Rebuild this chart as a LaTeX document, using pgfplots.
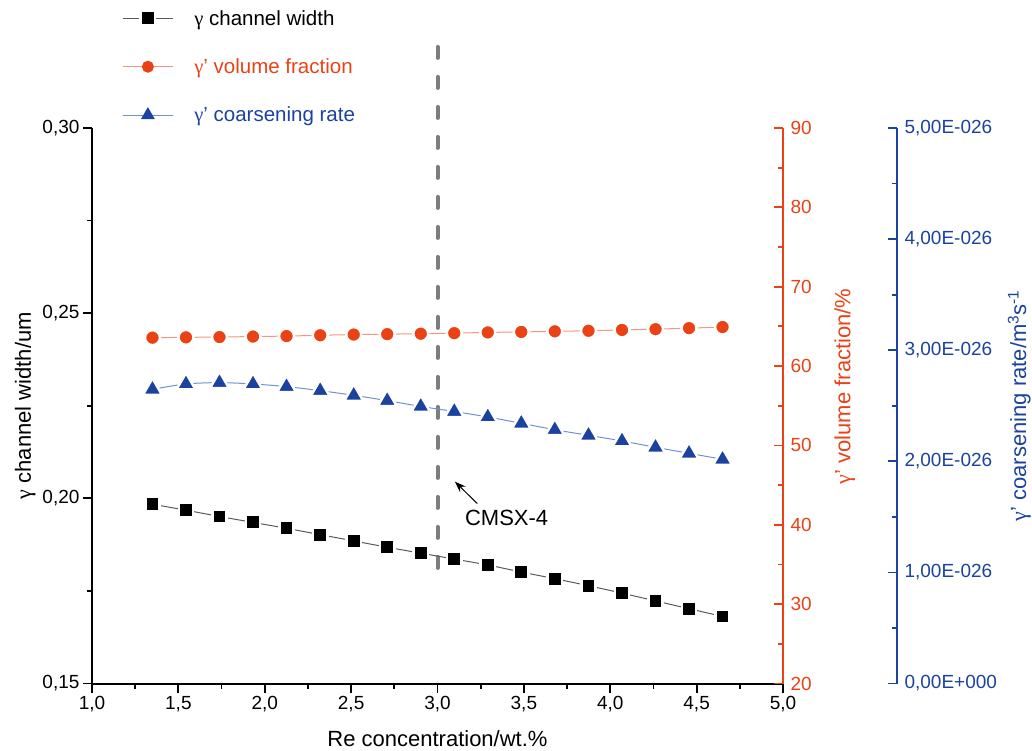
\documentclass[border=0pt]{standalone}
\usepackage{fontspec}
\setmainfont{Liberation Sans}
\newfontfamily\serifg{Liberation Serif}
\usepackage{pgfplots}
\usepackage{pgfplotstable}
\pgfplotsset{compat=1.18}
\usetikzlibrary{arrows.meta}
\definecolor{cred}{RGB}{234,66,20}
\definecolor{cblue}{RGB}{28,66,160}
\definecolor{credl}{RGB}{245,150,125}
\definecolor{cbluel}{RGB}{110,145,215}
\definecolor{cgrayl}{RGB}{90,90,90}
\definecolor{cdash}{RGB}{125,125,125}
\newcommand{\g}{{\serifg γ}}

\pgfplotstableread{
x w f r
1.350 0.1984 63.58 2.648
1.544 0.1968 63.62 2.696
1.738 0.1951 63.66 2.708
1.932 0.1935 63.72 2.696
2.126 0.1919 63.78 2.672
2.321 0.1902 63.88 2.636
2.515 0.1885 63.97 2.594
2.709 0.1868 64.02 2.546
2.903 0.1852 64.08 2.494
3.097 0.1836 64.15 2.448
3.291 0.1820 64.24 2.399
3.485 0.1801 64.30 2.342
3.679 0.1783 64.38 2.284
3.874 0.1764 64.45 2.234
4.068 0.1744 64.55 2.183
4.262 0.1723 64.65 2.126
4.456 0.1702 64.78 2.072
4.650 0.1681 64.92 2.018
}\data

\pgfplotsset{
  base/.style={
    at={(92pt,66.5pt)}, anchor=south west, scale only axis,
    height=555.5pt,
    major tick length=9pt, minor tick length=5pt,
    every tick/.style={line width=1.8pt},
    every minor tick/.style={line width=1.8pt},
    /pgf/number format/assume math mode=true,
    clip=false,
  },
}

\begin{document}
\begin{tikzpicture}[x=1pt,y=1pt]
\useasboundingbox (0,0) rectangle (1032,750);

% left axis
\begin{axis}[base,
  width=691pt,
  xmin=1, xmax=5, ymin=0.15, ymax=0.30,
  axis x line*=bottom, axis y line*=left,
  axis line style={line width=2pt, black},
  tick align=outside,
  xtick={1,1.5,...,5}, minor x tick num=1,
  ytick={0.15,0.2,0.25,0.3}, minor y tick num=1,
  xticklabel style={/pgf/number format/.cd, fixed, fixed zerofill, precision=1, use comma},
  yticklabel style={/pgf/number format/.cd, fixed, fixed zerofill, precision=2, use comma},
  tick label style={font=\fontsize{19}{22}\selectfont},
  xlabel={Re concentration/wt.\%},
  ylabel={\g\ channel width/um},
  label style={font=\fontsize{22}{24}\selectfont},
  xlabel style={yshift=-12pt},
  legend style={draw=none, fill=none, at={(axis description cs:0.0437,1.216)}, anchor=north west,
    row sep=28pt, font=\fontsize{20.5}{22}\selectfont, inner sep=0pt},
  legend cell align=left,
  legend image code/.code={\draw[mark repeat=2,mark phase=2] plot coordinates {(0pt,0pt)(25pt,0pt)(50pt,0pt)};},
]
\addplot[cdash, line width=4pt, line cap=round, dash pattern=on 11pt off 19pt, forget plot] coordinates {(3,0.3219) (3,0.1771)};
\addplot[cgrayl, line width=1pt, smooth, mark=square*, mark size=7.2pt,
  mark options={fill=black, draw=white, line width=2.5pt, solid}] table[x=x,y=w] {\data};
\addlegendentry{\hspace{19pt}\g\ channel width}
\addlegendimage{credl, line width=1pt, mark=*, mark size=5.5pt, mark options={fill=cred, draw=cred, solid}}
\addlegendentry{\hspace{19pt}\textcolor{cred}{\g' volume fraction}}
\addlegendimage{cbluel, line width=1pt, mark=triangle*, mark size=7pt, mark options={fill=cblue, draw=cblue, solid}}
\addlegendentry{\hspace{19pt}\textcolor{cblue}{\g' coarsening rate}}
\draw[-{Stealth[length=11pt,width=8pt]}, line width=1pt] (axis cs:3.23,0.1986) -- (axis cs:3.101,0.2045);
\node[font=\fontsize{22}{24}\selectfont] at (axis cs:3.40,0.1946) {CMSX-4};
\end{axis}

% red axis
\begin{axis}[base,
  width=691pt,
  xmin=1, xmax=5, ymin=20, ymax=90,
  axis x line=none, axis y line*=right,
  axis line style={line width=2pt, cred},
  tick align=inside,
  ytick={20,30,...,90}, minor y tick num=1,
  every tick/.style={line width=1.8pt, cred},
  every minor tick/.style={line width=1.8pt, cred},
  yticklabel style={font=\fontsize{19}{22}\selectfont, text=cred, xshift=4pt},
  ylabel={\g' volume fraction/\%},
  ylabel style={font=\fontsize{22}{24}\selectfont, text=cred, at={(ticklabel cs:0.535,16pt)}},
]
\addplot[credl, line width=1pt, smooth, mark=*, mark size=7.5pt,
  mark options={fill=cred, draw=white, line width=2.5pt, solid}] table[x=x,y=f] {\data};
\end{axis}

% blue axis
\begin{axis}[base,
  width=805pt,
  xmin=1, xmax=5.65991, ymin=0, ymax=5,
  axis x line=none, axis y line*=right,
  axis line style={line width=2pt, cblue},
  tick align=inside,
  ytick={0,1,2,3,4,5}, minor y tick num=1,
  yticklabels={{0,00E+000},{1,00E-026},{2,00E-026},{3,00E-026},{4,00E-026},{5,00E-026}},
  every tick/.style={line width=1.8pt, cblue},
  every minor tick/.style={line width=1.8pt, cblue},
  yticklabel style={font=\fontsize{19}{22}\selectfont, text=cblue, xshift=4pt},
  ylabel={\g' coarsening rate/m\textsuperscript{3}s\textsuperscript{-1}},
  ylabel style={font=\fontsize{22}{24}\selectfont, text=cblue, at={(ticklabel cs:0.5,4pt)}},
]
\addplot[cbluel, line width=1pt, smooth, mark=triangle*, mark size=11pt,
  mark options={fill=cblue, draw=white, line width=2.5pt, line join=round, solid}] table[x=x,y=r] {\data};
\end{axis}
\end{tikzpicture}
\end{document}
